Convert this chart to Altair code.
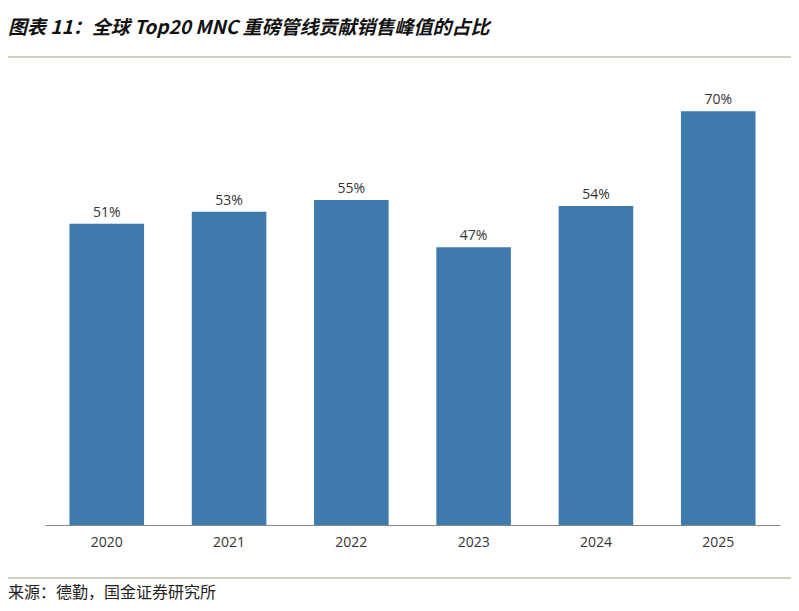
import altair as alt
import pandas as pd

years = ["2020", "2021", "2022", "2023", "2024", "2025"]
shares = [0.51, 0.53, 0.55, 0.47, 0.54, 0.70]

title_text = "图表 11：全球 Top20 MNC 重磅管线贡献销售峰值的占比"
source_text = "来源：德勤，国金证券研究所"

df = pd.DataFrame({"year": years, "share": shares})
font = "Noto Sans CJK SC"

base = alt.Chart(df).encode(
    x=alt.X("year:N", title=None, sort=years,
            scale=alt.Scale(paddingInner=0.39, paddingOuter=0.2),
            axis=alt.Axis(labelAngle=0, ticks=False, labelFontSize=14,
                          labelColor="#333333", labelPadding=10,
                          domainColor="#888888", labelFont="Open Sans")),
    y=alt.Y("share:Q", title=None, scale=alt.Scale(domain=[0, 0.77]), axis=None),
)

bars = base.mark_bar(color="#3f7aad")
labels = base.mark_text(dy=-11, fontSize=14, color="#333333", font="Open Sans").encode(
    text=alt.Text("share:Q", format=".0%"))

title = alt.Chart(pd.DataFrame({"t": [title_text]})).mark_text(
    align="left", baseline="middle", fontSize=19, fontWeight="bold",
    fontStyle="italic", font=font, color="#111111"
).encode(x=alt.value(-37), y=alt.value(-42), text="t:N")

source = alt.Chart(pd.DataFrame({"t": [source_text]})).mark_text(
    align="left", baseline="middle", fontSize=16, font=font, color="#222222"
).encode(x=alt.value(-37), y=alt.value(523), text="t:N")

top_rule = alt.Chart(pd.DataFrame({"a": [0]})).mark_rule(color="#a39e7a", strokeWidth=1).encode(
    x=alt.value(-37), x2=alt.value(762), y=alt.value(-13))
bottom_rule = alt.Chart(pd.DataFrame({"a": [0]})).mark_rule(color="#a39e7a", strokeWidth=1).encode(
    x=alt.value(-37), x2=alt.value(762), y=alt.value(508))

chart = alt.layer(bars, labels, title, source, top_rule, bottom_rule).properties(
    width=735, height=455,
    autosize=alt.AutoSizeParams(type="none"),
    padding={"left": 37, "top": 62, "right": 11, "bottom": 78},
).configure_view(stroke=None)

chart.save("out.html", embed_options={"renderer": "svg", "actions": False})
